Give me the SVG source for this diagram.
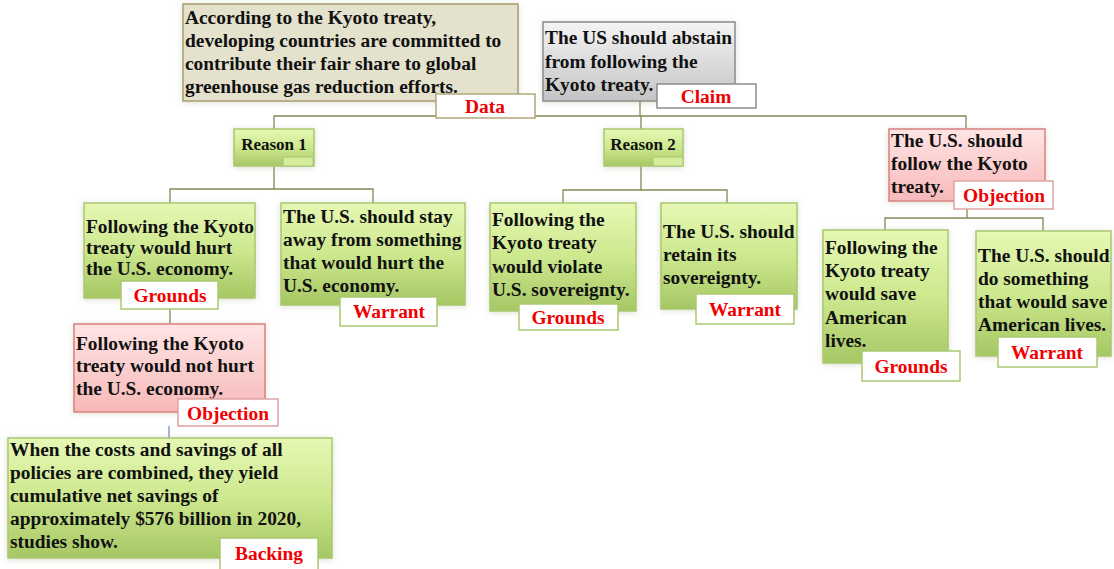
<svg xmlns="http://www.w3.org/2000/svg" width="1114" height="569" viewBox="0 0 1114 569">
  <defs>
    <linearGradient id="gGreen" x1="0" y1="0" x2="0" y2="1">
      <stop offset="0" stop-color="#e6f8b4"/>
      <stop offset="0.5" stop-color="#cde88e"/>
      <stop offset="1" stop-color="#a6c764"/>
    </linearGradient>
    <linearGradient id="gPink" x1="0" y1="0" x2="0" y2="1">
      <stop offset="0" stop-color="#ffe4e4"/>
      <stop offset="1" stop-color="#f7b9b9"/>
    </linearGradient>
    <linearGradient id="gGray" x1="0" y1="0" x2="0" y2="1">
      <stop offset="0" stop-color="#f4f4f4"/>
      <stop offset="1" stop-color="#c4c4c4"/>
    </linearGradient>
    <filter id="glow" x="-20%" y="-20%" width="140%" height="140%">
      <feDropShadow dx="0" dy="1" stdDeviation="3" flood-color="#8a9a60" flood-opacity="0.3"/>
    </filter>
    <style>
      .txt { font-family: "Liberation Serif", "Times New Roman", serif; font-weight: bold; font-size: 19.4px; fill: #111; }
      .rsn { font-family: "Liberation Serif", "Times New Roman", serif; font-weight: bold; font-size: 17px; fill: #111; }
      .lbl { font-family: "Liberation Serif", "Times New Roman", serif; font-weight: bold; font-size: 19.4px; fill: #f00000; text-anchor: middle; }
      .green { fill: url(#gGreen); stroke: #a9c872; stroke-width: 1.5; filter: url(#glow); }
      .pink { fill: url(#gPink); stroke: #d98080; stroke-width: 1.5; filter: url(#glow); }
      .gray { fill: url(#gGray); stroke: #8c8c8c; stroke-width: 1.5; filter: url(#glow); }
      .data { fill: #e4e1cc; stroke: #a89d70; stroke-width: 1.5; filter: url(#glow); }
      .tag { fill: #ffffff; stroke-width: 1.5; }
      .tagG { stroke: #a9c872; }
      .tagP { stroke: #e0a3a3; }
      .tagD { stroke: #b2a67a; }
      .tagC { stroke: #8c8c8c; }
      .tab { fill: #d4ec9c; stroke: #a9c872; stroke-width: 1; }
      .conn { fill: none; stroke: #7d8c55; stroke-width: 1.3; }
      .connB { fill: none; stroke: #7390b8; stroke-width: 1.3; }
    </style>
  </defs>

  <!-- connectors -->
  <g id="connectors">
    <path class="conn" d="M640 101 V116 M274 130 V116 H966 V129 M641 116 V130"/>
    <path class="conn" d="M274 166 V189 M170 203 V189 H373 V203"/>
    <path class="conn" d="M641 166 V190 M563 203 V190 H727 V203"/>
    <path class="conn" d="M967 209 V218 M885 230 V218 H1043 V231"/>
    <path class="conn" d="M170 309 V324"/>
    <path class="connB" d="M169 426 V438"/>
  </g>

  <!-- data -->
  <g id="data">
    <rect class="data" x="183" y="4" width="335" height="97"/>
    <text class="txt" x="185" y="24">According to the Kyoto treaty,</text>
    <text class="txt" x="185" y="47">developing countries are committed to</text>
    <text class="txt" x="185" y="70">contribute their fair share to global</text>
    <text class="txt" x="185" y="93">greenhouse gas reduction efforts.</text>
    <rect class="tag tagD" x="436" y="94" width="99" height="24"/>
    <text class="lbl" x="485" y="113">Data</text>
  </g>

  <!-- claim -->
  <g id="claim">
    <rect class="gray" x="543" y="22" width="192" height="79"/>
    <text class="txt" x="545" y="44">The US should abstain</text>
    <text class="txt" x="545" y="68">from following the</text>
    <text class="txt" x="545" y="91">Kyoto treaty.</text>
    <rect class="tag tagC" x="657" y="84" width="99" height="24"/>
    <text class="lbl" x="706" y="103">Claim</text>
  </g>

  <!-- reason 1 -->
  <g id="reason1">
    <rect class="green" x="234" y="129" width="80" height="37"/>
    <rect class="tab" x="283" y="157" width="30" height="9"/>
    <text class="rsn" x="274" y="150" text-anchor="middle">Reason 1</text>
  </g>

  <!-- reason 2 -->
  <g id="reason2">
    <rect class="green" x="604" y="129" width="79" height="37"/>
    <rect class="tab" x="653" y="157" width="30" height="9"/>
    <text class="rsn" x="643" y="150" text-anchor="middle">Reason 2</text>
  </g>

  <!-- objection to the claim -->
  <g id="objection2">
    <rect class="pink" x="889" y="129" width="156" height="72"/>
    <text class="txt" x="891" y="147">The U.S. should</text>
    <text class="txt" x="891" y="170">follow the Kyoto</text>
    <text class="txt" x="891" y="193">treaty.</text>
    <rect class="tag tagP" x="954" y="181" width="99" height="28"/>
    <text class="lbl" x="1004" y="202">Objection</text>
  </g>

  <!-- grounds 1 -->
  <g id="grounds1">
    <rect class="green" x="84" y="203" width="171" height="95"/>
    <text class="txt" x="86" y="233">Following the Kyoto</text>
    <text class="txt" x="86" y="254">treaty would hurt</text>
    <text class="txt" x="86" y="275">the U.S. economy.</text>
    <rect class="tag tagG" x="121" y="281" width="97" height="28"/>
    <text class="lbl" x="170" y="302">Grounds</text>
  </g>

  <!-- warrant 1 -->
  <g id="warrant1">
    <rect class="green" x="281" y="203" width="184" height="102"/>
    <text class="txt" x="283" y="223">The U.S. should stay</text>
    <text class="txt" x="283" y="246">away from something</text>
    <text class="txt" x="283" y="269">that would hurt the</text>
    <text class="txt" x="283" y="292">U.S. economy.</text>
    <rect class="tag tagG" x="340" y="297" width="97" height="29"/>
    <text class="lbl" x="389" y="318">Warrant</text>
  </g>

  <!-- grounds 2 -->
  <g id="grounds2">
    <rect class="green" x="490" y="203" width="146" height="108"/>
    <text class="txt" x="492" y="226">Following the</text>
    <text class="txt" x="492" y="249">Kyoto treaty</text>
    <text class="txt" x="492" y="273">would violate</text>
    <text class="txt" x="492" y="296">U.S. sovereignty.</text>
    <rect class="tag tagG" x="519" y="304" width="99" height="26"/>
    <text class="lbl" x="568" y="324">Grounds</text>
  </g>

  <!-- warrant 2 -->
  <g id="warrant2">
    <rect class="green" x="661" y="203" width="136" height="106"/>
    <text class="txt" x="663" y="238">The U.S. should</text>
    <text class="txt" x="663" y="261">retain its</text>
    <text class="txt" x="663" y="284">sovereignty.</text>
    <rect class="tag tagG" x="696" y="294" width="98" height="30"/>
    <text class="lbl" x="745" y="316">Warrant</text>
  </g>

  <!-- grounds 3 -->
  <g id="grounds3">
    <rect class="green" x="823" y="230" width="125" height="133"/>
    <text class="txt" x="825" y="254">Following the</text>
    <text class="txt" x="825" y="277">Kyoto treaty</text>
    <text class="txt" x="825" y="300">would save</text>
    <text class="txt" x="825" y="324">American</text>
    <text class="txt" x="825" y="347">lives.</text>
    <rect class="tag tagG" x="862" y="351" width="98" height="30"/>
    <text class="lbl" x="911" y="373">Grounds</text>
  </g>

  <!-- warrant 3 -->
  <g id="warrant3">
    <rect class="green" x="976" y="231" width="135" height="125"/>
    <text class="txt" x="978" y="262">The U.S. should</text>
    <text class="txt" x="978" y="285">do something</text>
    <text class="txt" x="978" y="308">that would save</text>
    <text class="txt" x="978" y="331">American lives.</text>
    <rect class="tag tagG" x="998" y="337" width="99" height="30"/>
    <text class="lbl" x="1047" y="359">Warrant</text>
  </g>

  <!-- objection to grounds 1 -->
  <g id="objection1">
    <rect class="pink" x="74" y="324" width="191" height="88"/>
    <text class="txt" x="76" y="350">Following the Kyoto</text>
    <text class="txt" x="76" y="372">treaty would not hurt</text>
    <text class="txt" x="76" y="395">the U.S. economy.</text>
    <rect class="tag tagP" x="178" y="399" width="100" height="27"/>
    <text class="lbl" x="228" y="420">Objection</text>
  </g>

  <!-- backing -->
  <g id="backing">
    <rect class="green" x="8" y="438" width="324" height="120"/>
    <text class="txt" x="10" y="456">When the costs and savings of all</text>
    <text class="txt" x="10" y="479">policies are combined, they yield</text>
    <text class="txt" x="10" y="502">cumulative net savings of</text>
    <text class="txt" x="10" y="525">approximately $576 billion in 2020,</text>
    <text class="txt" x="10" y="548">studies show.</text>
    <rect class="tag tagG" x="220" y="538" width="98" height="34"/>
    <text class="lbl" x="269" y="560">Backing</text>
  </g>
</svg>
